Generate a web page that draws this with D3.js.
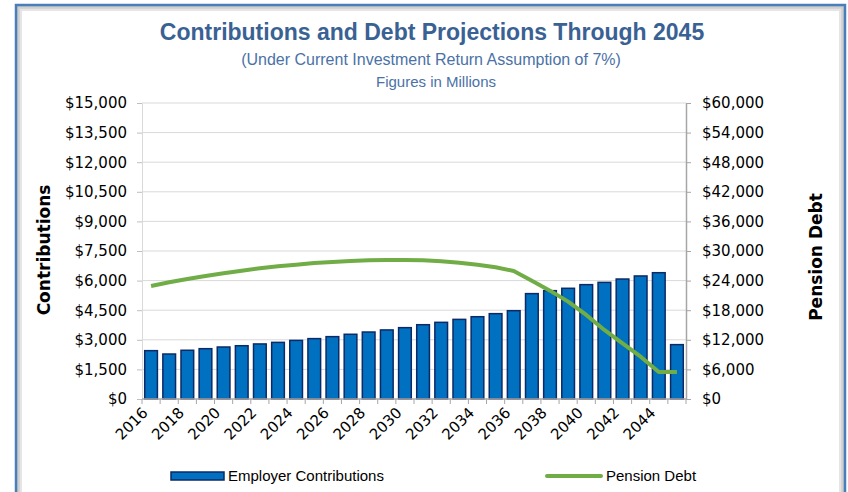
<!DOCTYPE html>
<html>
<head>
<meta charset="utf-8">
<script src="https://cdn.jsdelivr.net/npm/d3@7/dist/d3.min.js"></script>
<style>
  body { margin: 0; background: #fff; }
  svg { display: block; }
  text { font-family: "DejaVu Sans", sans-serif; }
</style>
</head>
<body>
<svg width="848" height="492"></svg>
<script>
'use strict';

// data (millions)
const years = ["2016", "2017", "2018", "2019", "2020", "2021", "2022", "2023", "2024", "2025",
  "2026", "2027", "2028", "2029", "2030", "2031", "2032", "2033", "2034", "2035",
  "2036", "2037", "2038", "2039", "2040", "2041", "2042", "2043", "2044", "2045"];

const contributions = [2450, 2280, 2470, 2550, 2635, 2700, 2790, 2870, 2970, 3060,
  3160, 3280, 3395, 3500, 3615, 3765, 3885, 4035, 4170, 4325,
  4475, 5340, 5490, 5610, 5795, 5910, 6080, 6235, 6400, 2755];

const pensionDebt = [22900, 23650, 24320, 24930, 25470, 26010, 26490, 26890, 27230, 27570,
  27770, 27970, 28110, 28180, 28180, 28110, 27900, 27630, 27230, 26690,
  25950, 23990, 21960, 19730, 17030, 13990, 11280, 8580, 5470, 5470];

const leftTicks = [0, 1500, 3000, 4500, 6000, 7500, 9000, 10500, 12000, 13500, 15000];
const rightTicks = [0, 6000, 12000, 18000, 24000, 30000, 36000, 42000, 48000, 54000, 60000];
const xLabels = ["2016", "2018", "2020", "2022", "2024", "2026", "2028", "2030",
  "2032", "2034", "2036", "2038", "2040", "2042", "2044"];

const rows = years.map((y, i) => ({ year: y, contrib: contributions[i], debt: pensionDebt[i] }));

// layout
const plot = { left: 142, right: 686, top: 103, bottom: 399 };
const money = v => "$" + d3.format(",")(v);

const svg = d3.select("svg");

// outer frame with a soft inner shadow
const frame = svg.append("g");
[[0.10, 5], [0.07, 3], [0.05, 1.5]].forEach(([op, w]) => {
  frame.append("rect")
    .attr("x", 16 + w / 2 + 1).attr("y", 5 + w / 2 + 1)
    .attr("width", 829 - w - 2).attr("height", 520)
    .attr("fill", "none").attr("stroke", "#000").attr("stroke-opacity", op)
    .attr("stroke-width", w);
});
frame.append("rect")
  .attr("x", 16).attr("y", 5).attr("width", 829).attr("height", 520)
  .attr("fill", "none").attr("stroke", "#4a7ebb").attr("stroke-width", 2.5);

// scales
const x = d3.scaleBand().domain(years).range([plot.left, plot.right])
  .paddingInner(0.3).paddingOuter(0.15);
const yL = d3.scaleLinear().domain([0, 15000]).range([plot.bottom, plot.top]);
const yR = d3.scaleLinear().domain([0, 60000]).range([plot.bottom, plot.top]);

// gridlines
svg.append("g").selectAll("line")
  .data(leftTicks.filter(d => d > 0))
  .join("line")
  .attr("x1", plot.left).attr("x2", plot.right)
  .attr("y1", d => yL(d)).attr("y2", d => yL(d))
  .attr("stroke", "#d9d9d9").attr("stroke-width", 1);

// left axis
const axL = svg.append("g")
  .attr("transform", `translate(${plot.left},0)`)
  .call(d3.axisLeft(yL).tickValues(leftTicks).tickFormat(money).tickSize(5).tickPadding(10).tickSizeOuter(0));
axL.select(".domain").attr("stroke", "#d9d9d9");
axL.selectAll(".tick line").attr("stroke", "#bfbfbf");
axL.selectAll(".tick text").attr("fill", "#000").style("font-size", "15px")
  .style("font-family", "DejaVu Sans, sans-serif");

// right axis
const axR = svg.append("g")
  .attr("transform", `translate(${plot.right},0)`)
  .call(d3.axisRight(yR).tickValues(rightTicks).tickFormat(money).tickSize(5).tickPadding(11).tickSizeOuter(0));
axR.select(".domain").attr("stroke", "#a6a6a6").attr("stroke-width", 1.5);
axR.selectAll(".tick line").attr("stroke", "#a6a6a6");
axR.selectAll(".tick text").attr("fill", "#000").style("font-size", "15px")
  .style("font-family", "DejaVu Sans, sans-serif");

// bars
svg.append("g").selectAll("rect")
  .data(rows)
  .join("rect")
  .attr("x", d => x(d.year))
  .attr("width", x.bandwidth())
  .attr("y", d => yL(d.contrib))
  .attr("height", d => yL(0) - yL(d.contrib))
  .attr("fill", "#0070c0")
  .attr("stroke", "#0d2a66")
  .attr("stroke-width", 1.5);

// bottom axis: line, ticks between categories, rotated labels
const bottom = svg.append("g");
bottom.append("line")
  .attr("x1", plot.left).attr("x2", plot.right)
  .attr("y1", plot.bottom).attr("y2", plot.bottom)
  .attr("stroke", "#a6a6a6").attr("stroke-width", 1.5);
const edges = years.map(y => x(y) - x.step() * x.paddingInner() / 2).concat([plot.right]);
bottom.selectAll("line.tk")
  .data(edges)
  .join("line").attr("class", "tk")
  .attr("x1", d => d).attr("x2", d => d)
  .attr("y1", plot.bottom).attr("y2", plot.bottom + 5)
  .attr("stroke", "#a6a6a6");

const axB = svg.append("g")
  .attr("transform", `translate(0,${plot.bottom})`)
  .call(d3.axisBottom(x).tickValues(xLabels).tickSize(0).tickPadding(0));
axB.select(".domain").remove();
axB.selectAll(".tick text")
  .attr("fill", "#000").style("font-size", "15px")
  .style("font-family", "DejaVu Sans, sans-serif")
  .attr("text-anchor", "end")
  .attr("dy", "0.35em")
  .attr("transform", "translate(-6,11) rotate(-45)");

// pension debt line
const line = d3.line()
  .x(d => x(d.year) + x.bandwidth() / 2)
  .y(d => yR(d.debt));
svg.append("path")
  .datum(rows)
  .attr("d", line)
  .attr("fill", "none")
  .attr("stroke", "#70ad47")
  .attr("stroke-width", 4)
  .attr("stroke-linejoin", "round");

// titles
svg.append("text")
  .attr("x", 432).attr("y", 40)
  .attr("text-anchor", "middle")
  .style("font-family", "Liberation Sans Narrow, Liberation Sans, sans-serif")
  .style("font-size", "23px").style("font-weight", "bold")
  .attr("fill", "#3a6193")
  .text("Contributions and Debt Projections Through 2045");

svg.append("text")
  .attr("x", 431).attr("y", 65)
  .attr("text-anchor", "middle")
  .style("font-family", "Liberation Sans, sans-serif")
  .style("font-size", "16px")
  .attr("fill", "#4a72a6")
  .text("(Under Current Investment Return Assumption of 7%)");

svg.append("text")
  .attr("x", 436).attr("y", 87)
  .attr("text-anchor", "middle")
  .style("font-family", "Liberation Sans, sans-serif")
  .style("font-size", "15px")
  .attr("fill", "#4a72a6")
  .text("Figures in Millions");

// axis titles
svg.append("text")
  .attr("transform", "translate(50,250) rotate(-90)")
  .attr("text-anchor", "middle")
  .style("font-size", "17px").style("font-weight", "bold")
  .attr("fill", "#000")
  .text("Contributions");

svg.append("text")
  .attr("transform", "translate(822,257) rotate(-90)")
  .attr("text-anchor", "middle")
  .style("font-size", "17px").style("font-weight", "bold")
  .attr("fill", "#000")
  .text("Pension Debt");

// legend
const legend = svg.append("g");
legend.append("rect")
  .attr("x", 171).attr("y", 472).attr("width", 53).attr("height", 8)
  .attr("fill", "#0070c0").attr("stroke", "#0d2a66").attr("stroke-width", 1.5);
legend.append("text")
  .attr("x", 228).attr("y", 481)
  .style("font-family", "Liberation Sans, sans-serif").style("font-size", "15px")
  .attr("fill", "#000")
  .text("Employer Contributions");
legend.append("line")
  .attr("x1", 547).attr("x2", 601).attr("y1", 476).attr("y2", 476)
  .attr("stroke", "#70ad47").attr("stroke-width", 4).attr("stroke-linecap", "round");
legend.append("text")
  .attr("x", 606).attr("y", 481)
  .style("font-family", "Liberation Sans, sans-serif").style("font-size", "15px")
  .attr("fill", "#000")
  .text("Pension Debt");
</script>
</body>
</html>
